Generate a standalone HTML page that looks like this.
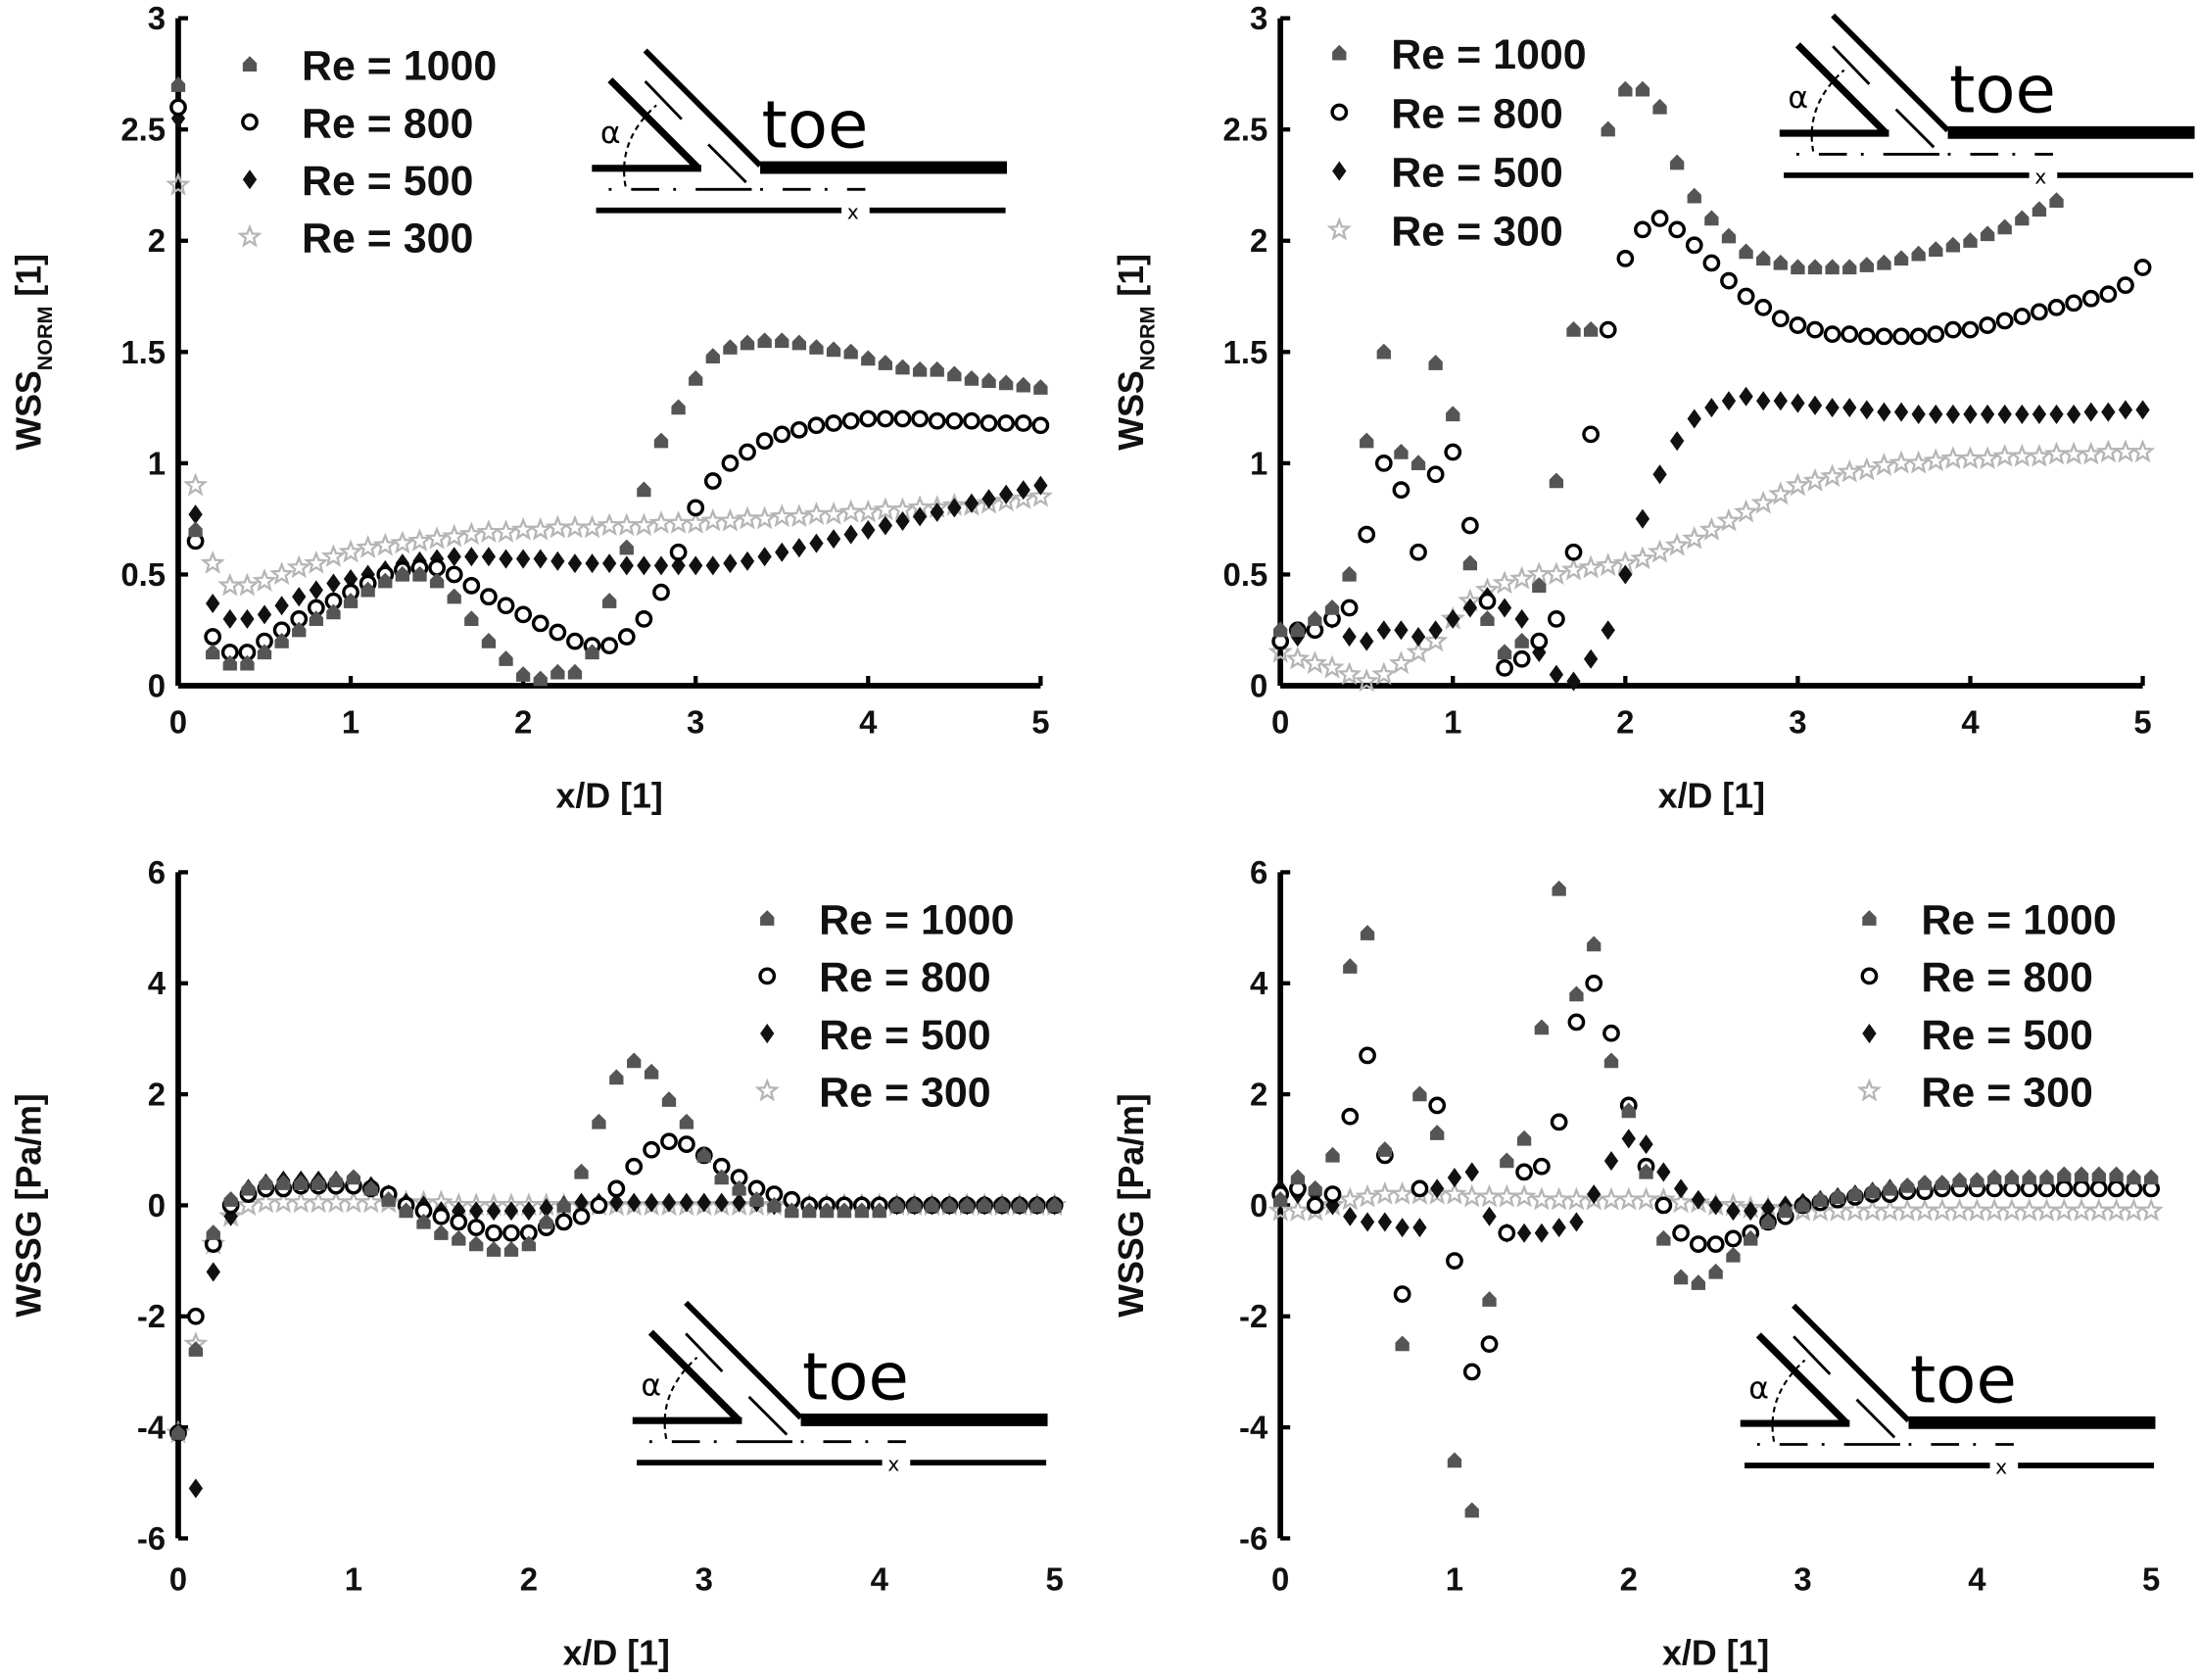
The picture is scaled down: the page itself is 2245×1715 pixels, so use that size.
<!DOCTYPE html>
<html><head><meta charset="utf-8"><style>
html,body{margin:0;padding:0;background:#fff;}
svg{display:block;}
text{font-family:"Liberation Sans",Arial,sans-serif;}
.tick{font-size:23px;font-weight:bold;fill:#111;}
.leg{font-size:30px;font-weight:bold;fill:#111;}
.ttl{font-size:25px;font-weight:bold;fill:#111;}
</style></head><body>
<svg id="chart" width="2245" height="1715" viewBox="0 0 1568 1198" xmlns="http://www.w3.org/2000/svg">
<defs>
<g id="inset">
<line x1="460" y1="36" x2="542" y2="118" stroke="#000" stroke-width="4"/>
<line x1="542" y1="119.5" x2="718" y2="119.5" stroke="#000" stroke-width="9"/>
<line x1="435" y1="57" x2="498" y2="120" stroke="#000" stroke-width="5"/>
<line x1="422" y1="120" x2="500" y2="120" stroke="#000" stroke-width="5"/>
<line x1="460" y1="58" x2="486" y2="85" stroke="#000" stroke-width="2"/>
<line x1="505" y1="103" x2="532" y2="130" stroke="#000" stroke-width="2"/>
<line x1="434" y1="135" x2="617" y2="135" stroke="#000" stroke-width="2" stroke-dasharray="2,14,20,10,2,14,40,6"/>
<path d="M446,133 Q440,100 468,75" fill="none" stroke="#000" stroke-width="1.5" stroke-dasharray="4,3"/>
<line x1="425" y1="150" x2="600" y2="150" stroke="#000" stroke-width="4"/>
<line x1="620" y1="150" x2="717" y2="150" stroke="#000" stroke-width="4"/>
<text x="604" y="156" style="font-size:14px;font-family:'DejaVu Sans',sans-serif">x</text>
<text x="428" y="102" style="font-size:22px;font-family:'DejaVu Sans',sans-serif">α</text>
<text x="543" y="105" style="font-size:47px;font-family:'DejaVu Sans',sans-serif">toe</text>
</g>
</defs>
</svg>
<script>
// ---- data (x/D from 0 to 5 step 0.1) ----
const xTicks = [0,1,2,3,4,5];
const yTicksTop = [0,0.5,1,1.5,2,2.5,3];
const yTicksBot = [-6,-4,-2,0,2,4,6];
const seriesNames = ["Re = 1000","Re = 800","Re = 500","Re = 300"];

const tl1000=[2.7,0.7,0.15,0.1,0.1,0.15,0.2,0.25,0.3,0.33,0.38,0.43,0.47,0.5,0.5,0.47,0.4,0.3,0.2,0.12,0.05,0.03,0.06,0.06,0.15,0.38,0.62,0.88,1.1,1.25,1.38,1.48,1.52,1.54,1.55,1.55,1.54,1.52,1.51,1.5,1.47,1.45,1.43,1.42,1.42,1.4,1.38,1.37,1.36,1.35,1.34];
const tl800=[2.6,0.65,0.22,0.15,0.15,0.2,0.25,0.3,0.35,0.38,0.42,0.46,0.5,0.52,0.53,0.53,0.5,0.45,0.4,0.36,0.32,0.28,0.24,0.2,0.18,0.18,0.22,0.3,0.42,0.6,0.8,0.92,1.0,1.05,1.1,1.13,1.15,1.17,1.18,1.19,1.2,1.2,1.2,1.2,1.19,1.19,1.19,1.18,1.18,1.18,1.17];
const tl500=[2.55,0.77,0.37,0.3,0.3,0.32,0.36,0.4,0.43,0.46,0.48,0.5,0.52,0.55,0.56,0.57,0.58,0.58,0.58,0.57,0.57,0.57,0.56,0.55,0.55,0.55,0.54,0.54,0.54,0.54,0.54,0.54,0.55,0.56,0.58,0.6,0.62,0.64,0.66,0.68,0.7,0.72,0.74,0.76,0.78,0.8,0.82,0.84,0.86,0.88,0.9];
const tl300=[2.25,0.9,0.55,0.45,0.45,0.47,0.5,0.53,0.55,0.58,0.6,0.62,0.63,0.64,0.65,0.66,0.67,0.68,0.69,0.69,0.7,0.7,0.71,0.71,0.71,0.72,0.72,0.72,0.73,0.73,0.73,0.74,0.74,0.75,0.75,0.76,0.76,0.77,0.77,0.78,0.78,0.79,0.79,0.8,0.8,0.81,0.81,0.82,0.83,0.84,0.85];

const tr1000=[0.25,0.25,0.3,0.35,0.5,1.1,1.5,1.05,1.0,1.45,1.22,0.55,0.3,0.15,0.2,0.45,0.92,1.6,1.6,2.5,2.68,2.68,2.6,2.35,2.2,2.1,2.02,1.95,1.92,1.9,1.88,1.88,1.88,1.88,1.89,1.9,1.92,1.94,1.96,1.98,2.0,2.03,2.06,2.1,2.14,2.18,null,null,null,null,null];
const tr800=[0.2,0.25,0.25,0.3,0.35,0.68,1.0,0.88,0.6,0.95,1.05,0.72,0.38,0.08,0.12,0.2,0.3,0.6,1.13,1.6,1.92,2.05,2.1,2.05,1.98,1.9,1.82,1.75,1.7,1.65,1.62,1.6,1.58,1.58,1.57,1.57,1.57,1.57,1.58,1.6,1.6,1.62,1.64,1.66,1.68,1.7,1.72,1.74,1.76,1.8,1.88];
const tr500=[0.25,0.22,0.28,0.3,0.22,0.2,0.25,0.25,0.22,0.25,0.3,0.35,0.4,0.35,0.3,0.15,0.05,0.02,0.12,0.25,0.5,0.75,0.95,1.1,1.2,1.25,1.28,1.3,1.28,1.28,1.27,1.26,1.25,1.25,1.24,1.23,1.23,1.22,1.22,1.22,1.22,1.22,1.22,1.22,1.22,1.22,1.22,1.23,1.23,1.24,1.24];
const tr300=[0.15,0.12,0.1,0.08,0.05,0.02,0.05,0.1,0.15,0.2,0.3,0.38,0.43,0.46,0.48,0.5,0.5,0.52,0.53,0.54,0.55,0.57,0.6,0.63,0.66,0.7,0.74,0.78,0.82,0.86,0.9,0.92,0.94,0.96,0.97,0.99,1.0,1.0,1.01,1.02,1.02,1.02,1.03,1.03,1.03,1.04,1.04,1.04,1.05,1.05,1.05];

const bl1000=[-4.1,-2.6,-0.5,0.1,0.3,0.4,0.4,0.4,0.4,0.45,0.5,0.3,0.1,-0.1,-0.3,-0.5,-0.6,-0.7,-0.8,-0.8,-0.7,-0.3,0.0,0.6,1.5,2.3,2.6,2.4,1.9,1.5,0.9,0.5,0.3,0.1,0.0,-0.1,-0.1,-0.1,-0.1,-0.1,-0.1,0,0,0,0,0,0,0,0,0,0];
const bl800=[-4.1,-2.0,-0.7,0.0,0.2,0.3,0.3,0.35,0.35,0.35,0.35,0.3,0.2,0.0,-0.1,-0.2,-0.3,-0.4,-0.5,-0.5,-0.5,-0.4,-0.3,-0.2,0.0,0.3,0.7,1.0,1.15,1.1,0.9,0.7,0.5,0.3,0.2,0.1,0.0,0,0,0,0,0,0,0,0,0,0,0,0,0,0];
const bl500=[-4.1,-5.1,-1.2,-0.2,0.3,0.4,0.45,0.45,0.45,0.45,0.4,0.35,0.2,0.05,0,-0.1,-0.1,-0.1,-0.1,-0.1,-0.1,-0.05,0,0.05,0.05,0.05,0.05,0.05,0.05,0.05,0.05,0.05,0.05,0.05,0,0,0,0,0,0,0,0,0,0,0,0,0,0,0,0,0];
const bl300=[-4.1,-2.5,-0.7,-0.2,0,0.05,0.05,0.05,0.05,0.05,0.05,0.05,0.05,0.05,0.05,0.05,0,0,0,0,0,0,0,0,0,0,0,0,0,0,0,0,0,0,0,0,0,0,0,0,0,0,0,0,0,0,0,0,0,0,0];

const br1000=[0.1,0.5,0.3,0.9,4.3,4.9,1.0,-2.5,2.0,1.3,-4.6,-5.5,-1.7,0.8,1.2,3.2,5.7,3.8,4.7,2.6,1.7,0.6,-0.6,-1.3,-1.4,-1.2,-0.9,-0.6,-0.3,-0.1,0,0.1,0.15,0.2,0.25,0.3,0.35,0.4,0.4,0.45,0.45,0.5,0.5,0.5,0.5,0.55,0.55,0.55,0.55,0.5,0.5];
const br800=[0.2,0.3,0.0,0.2,1.6,2.7,0.9,-1.6,0.3,1.8,-1.0,-3.0,-2.5,-0.5,0.6,0.7,1.5,3.3,4.0,3.1,1.8,0.7,0.0,-0.5,-0.7,-0.7,-0.6,-0.5,-0.3,-0.2,0,0.05,0.1,0.15,0.2,0.2,0.25,0.25,0.3,0.3,0.3,0.3,0.3,0.3,0.3,0.3,0.3,0.3,0.3,0.3,0.3];
const br500=[0.3,0.2,0.2,0,-0.2,-0.3,-0.3,-0.4,-0.4,0.3,0.5,0.6,-0.2,-0.5,-0.5,-0.5,-0.4,-0.3,0.2,0.8,1.2,1.1,0.6,0.3,0.1,0,-0.1,-0.1,-0.05,0,0.05,0.1,0.15,0.2,0.25,0.3,0.3,0.35,0.35,0.4,0.4,0.4,0.4,0.4,0.4,0.4,0.4,0.4,0.4,0.4,0.4];
const br300=[-0.1,-0.1,-0.1,0,0.1,0.15,0.2,0.2,0.2,0.2,0.2,0.15,0.15,0.15,0.15,0.1,0.1,0.1,0.1,0.1,0.1,0.1,0.1,0.05,0.05,0,0,-0.05,-0.05,-0.05,-0.1,-0.1,-0.1,-0.1,-0.1,-0.1,-0.1,-0.1,-0.1,-0.1,-0.1,-0.1,-0.1,-0.1,-0.1,-0.1,-0.1,-0.1,-0.1,-0.1,-0.1];

const NS="http://www.w3.org/2000/svg";
const svg=document.getElementById('chart');
function mk(tag,attrs,parent){const e=document.createElementNS(NS,tag);for(const k in attrs)e.setAttribute(k,attrs[k]);(parent||svg).appendChild(e);return e;}

function marker(kind,cx,cy,parent){
  let e;
  if(kind===0){e=mk('path',{d:`M${cx-5},${cy+5}L${cx-5},${cy-1}L${cx},${cy-6}L${cx+5},${cy-1}L${cx+5},${cy+5}Z`,fill:'#555'},parent);}
  else if(kind===1){e=mk('circle',{cx:cx,cy:cy,r:5,fill:'#fff',stroke:'#000','stroke-width':2.4},parent);}
  else if(kind===2){e=mk('path',{d:`M${cx},${cy-7}L${cx+5},${cy}L${cx},${cy+7}L${cx-5},${cy}Z`,fill:'#111'},parent);}
  else {let p='';for(let i=0;i<10;i++){const r=i%2?3:7;const a=-Math.PI/2+i*Math.PI/5;p+=(i?'L':'M')+(cx+r*Math.cos(a)).toFixed(1)+','+(cy+r*Math.sin(a)).toFixed(1);}e=mk('path',{d:p+'Z',fill:'none',stroke:'#b5b5b5','stroke-width':1.6},parent);}
  return e;
}

function panel(cfg){
  const g=mk('g',{});
  
  
  const sx=v=>cfg.x0+(v-0)/5*(cfg.x1-cfg.x0);
  const sy=v=>cfg.yb+(v-cfg.ymin)/(cfg.ymax-cfg.ymin)*(cfg.yt-cfg.yb);
  const ins=mk('use',{href:'#inset',transform:`translate(${cfg.inset[0]},${cfg.inset[1]})`},g);
  
  
  const ya=mk('line',{x1:cfg.x0,y1:sy(cfg.ymax),x2:cfg.x0,y2:sy(cfg.ymin),stroke:'#000','stroke-width':4},g);
  
  
  cfg.yticks.forEach(t=>{
    mk('line',{x1:cfg.x0,y1:sy(t),x2:cfg.x0+7,y2:sy(t),stroke:'#000','stroke-width':3},g);
    const tx=mk('text',{x:cfg.x0-9,y:sy(t)+8,'text-anchor':'end',class:'tick'},g);tx.textContent=t;
    
    
  });
  if(cfg.xaxis){const xa=mk('line',{x1:cfg.x0,y1:sy(0),x2:cfg.x1,y2:sy(0),stroke:'#000','stroke-width':4},g);
    
    }
  xTicks.forEach(t=>{
    if(cfg.xaxis)mk('line',{x1:sx(t),y1:sy(0),x2:sx(t),y2:sy(0)-7,stroke:'#000','stroke-width':3},g);
    const tx=mk('text',{x:sx(t),y:cfg.xlabY,'text-anchor':'middle',class:'tick'},g);tx.textContent=t;
    
    
  });
  const xt=mk('text',{x:(cfg.x0+cfg.x1)/2,y:cfg.xlabY+53,'text-anchor':'middle',class:'ttl'},g);xt.textContent='x/D [1]';
  
  
  const ymid=(sy(cfg.ymax)+sy(cfg.ymin))/2;
  const ax=cfg.x0-98;
  const yt=mk('text',{x:ax,y:ymid,'text-anchor':'middle',class:'ttl',transform:`rotate(-90 ${ax} ${ymid})`},g);
  
  
  if(cfg.top){yt.innerHTML='WSS<tspan dy="8" style="font-size:15px">NORM</tspan><tspan dy="-8"> [1]</tspan>';}
  else yt.textContent='WSSG [Pa/m]';
  for(let s=3;s>=0;s--){
    const sg=mk('g',{},g);
    
    
    cfg.data[s].forEach((v,i)=>{ if(v===null)return;
      const m=marker(s,sx(i*0.1),sy(v),sg);
      
      
    });
  }
  const lg=mk('g',{},g);
  
  
  seriesNames.forEach((n,i)=>{
    const y=cfg.leg[1]+i*cfg.leg[2];
    const m=marker(i,cfg.leg[0],y,lg);
    
    
    const t=mk('text',{x:cfg.leg[0]+37,y:y+11,class:'leg'},lg);t.textContent=n;
    
    
  });
}

panel({name:'panel-wss-norm-left',x0:127,x1:742,yb:489,yt:13,ymin:0,ymax:3,yticks:yTicksTop,xlabY:523,top:true,xaxis:true,
  data:[tl1000,tl800,tl500,tl300],leg:[178,46,41],inset:[0,0]});
panel({name:'panel-wss-norm-right',x0:913,x1:1528,yb:489,yt:13,ymin:0,ymax:3,yticks:yTicksTop,xlabY:523,top:true,xaxis:true,
  data:[tr1000,tr800,tr500,tr300],leg:[955,38,42],inset:[847,-25]});
panel({name:'panel-wssg-left',x0:127,x1:752,yb:1097,yt:622,ymin:-6,ymax:6,yticks:yTicksBot,xlabY:1134,top:false,xaxis:false,
  data:[bl1000,bl800,bl500,bl300],leg:[547,655,41],inset:[29,893]});
panel({name:'panel-wssg-right',x0:913,x1:1534,yb:1097,yt:622,ymin:-6,ymax:6,yticks:yTicksBot,xlabY:1134,top:false,xaxis:false,
  data:[br1000,br800,br500,br300],leg:[1333,655,41],inset:[819,895]});
</script>
</body></html>
